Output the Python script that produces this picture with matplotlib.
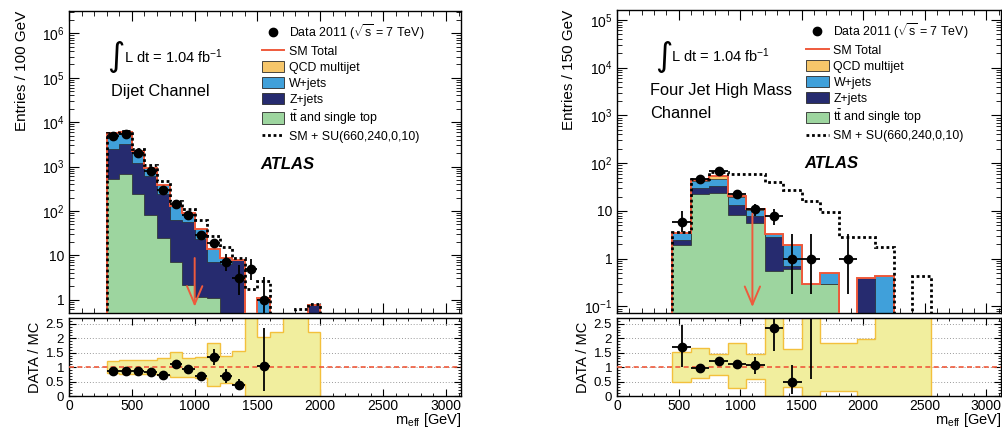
import numpy as np
import matplotlib
matplotlib.use("Agg")
import matplotlib.pyplot as plt
from matplotlib.lines import Line2D
from matplotlib.patches import Patch
from matplotlib.ticker import FixedLocator, FixedFormatter, MultipleLocator, NullFormatter

plt.rcParams["font.family"] = ["Liberation Sans", "DejaVu Sans"]
plt.rcParams["mathtext.fontset"] = "custom"
plt.rcParams["mathtext.rm"] = "Liberation Sans"
plt.rcParams["mathtext.it"] = "Liberation Sans:italic"
plt.rcParams["mathtext.bf"] = "Liberation Sans:bold"
plt.rcParams["mathtext.default"] = "regular"

# ---- Dijet channel (100 GeV bins) ----
dijet_edges = [300, 400, 500, 600, 700, 800, 900, 1000, 1100, 1200,
               1300, 1400, 1500, 1600, 1700, 1800, 1900, 2000]
dijet_ttbar = [520, 680, 245, 80, 24, 7.0, 2.1, 1.15, 1.1, 0, 0, 0, 0, 0, 0, 0, 0]
dijet_zjets = [1940, 2550, 975, 540, 216, 55, 53, 22, 6.0, 6.5, 8.0, 0, 0, 0, 0, 0, 0.75]
dijet_wjets = [3140, 2870, 1060, 300, 150, 68, 34, 15, 7.0, 2.2, 0, 0, 1.1, 0, 0, 0, 0]
dijet_qcd = [0, 0, 0, 0, 0, 0, 0, 0, 0, 0, 0, 0, 0, 0, 0, 0, 0]
dijet_susy = [5800, 6400, 2450, 1100, 460, 165, 110, 63, 27, 15, 8.7, 1.7, 2.6, 0, 0, 0.62, 0.8]

dijet_data_x = [350, 450, 550, 650, 750, 850, 950, 1050, 1150, 1250, 1350, 1450, 1550]
dijet_data_y = [5000, 5400, 2050, 800, 300, 145, 82, 29, 19, 7, 3, 5, 1]
dijet_data_lo = [70, 73, 45, 28, 17, 12, 9, 5.4, 4.4, 2.6, 1.7, 2.2, 0.99]
dijet_data_hi = [70, 73, 45, 28, 17, 12, 9, 5.4, 4.4, 3.8, 3.0, 3.4, 2.2]

dijet_ratio_x = [350, 450, 550, 650, 750, 850, 950, 1050, 1150, 1250, 1350, 1550]
dijet_ratio_y = [0.87, 0.88, 0.86, 0.82, 0.73, 1.11, 0.92, 0.70, 1.35, 0.70, 0.39, 1.05]
dijet_ratio_lo = [0.03, 0.03, 0.03, 0.04, 0.05, 0.06, 0.08, 0.10, 0.28, 0.25, 0.19, 0.87]
dijet_ratio_hi = [0.03, 0.03, 0.03, 0.04, 0.05, 0.06, 0.08, 0.10, 0.28, 0.25, 0.19, 1.30]
dijet_band_hi = [1.22, 1.24, 1.24, 1.25, 1.32, 1.52, 1.32, 1.35, 1.82, 1.40, 1.55,
                 3.0, 2.05, 2.23, 3.0, 3.0, 2.23]
dijet_band_lo = [0.78, 0.77, 0.77, 0.76, 0.72, 0.66, 0.65, 0.62, 0.33, 0.45, 0.42,
                 0, 0, 0, 0, 0, 0]
dijet_cut = 1000

# ---- Four jet high mass channel (150 GeV bins) ----
fourjet_edges = [450, 600, 750, 900, 1050, 1200, 1350, 1500, 1650,
                 1800, 1950, 2100, 2250, 2400, 2550]
fourjet_ttbar = [1.96, 22.5, 23.5, 8.05, 5.7, 0.54, 0.61, 0.29, 0.29, 0, 0, 0, 0, 0]
fourjet_zjets = [0.54, 7.5, 9.0, 5.35, 2.0, 2.26, 0.08, 0, 0, 0, 0.40, 0, 0, 0]
fourjet_wjets = [0.9, 12.5, 13.5, 6.6, 2.9, 0.5, 1.2, 0, 0.2, 0, 0, 0.43, 0, 0]
fourjet_qcd = [0, 3.0, 8.0, 0.5, 0.2, 0, 0, 0, 0, 0, 0, 0, 0, 0]
fourjet_susy = [3.6, 47, 65, 60, 59, 41, 28, 16.5, 9.3, 2.9, 2.9, 1.8, 0, 0.43]

fourjet_data_x = [525, 675, 825, 975, 1125, 1275, 1425, 1575, 1875]
fourjet_data_y = [6, 47, 67, 23, 11, 8, 1, 1, 1]
fourjet_data_lo = [2.3, 6.8, 8.2, 4.8, 3.3, 2.8, 0.82, 0.82, 0.82]
fourjet_data_hi = [3.8, 6.8, 8.2, 4.8, 3.3, 2.8, 2.3, 2.3, 2.3]

fourjet_ratio_x = [525, 675, 825, 975, 1125, 1275, 1425, 1575]
fourjet_ratio_y = [1.71, 0.98, 1.22, 1.12, 1.06, 2.35, 0.49, 3.6]
fourjet_ratio_lo = [0.69, 0.06, 0.08, 0.12, 0.30, 0.79, 0.41, 3.0]
fourjet_ratio_hi = [0.76, 0.06, 0.08, 0.12, 0.30, 0.32, 0.57, 1.5]
fourjet_band_hi = [1.51, 1.67, 1.47, 1.85, 1.45, 3.0, 1.62, 3.0, 1.85, 1.85, 1.96, 3.0, 3.0, 3.0]
fourjet_band_lo = [0.49, 0.62, 0.73, 0.27, 0.58, 0, 0.32, 0, 0.18, 0.18, 0, 0, 0, 0]
fourjet_cut = 1100

# colours
C_TTBAR = "#9dd59f"
C_ZJETS = "#262b6f"
C_WJETS = "#40a0da"
C_QCD = "#f6c66a"
C_SM = "#ef5a3c"
C_BAND = "#f1ee9e"
C_BAND_EDGE = "#f3c03c"

FLOOR = 1e-4
X_MAX = 3120
FS = 9.5


def log_safe(v):
    v = np.asarray(v, dtype=float)
    return np.where(v > 0, v, FLOOR)


def style_axes(ax):
    ax.tick_params(which="both", direction="in", top=True, right=True, labelsize=FS)
    ax.tick_params(which="major", length=7, width=0.8)
    ax.tick_params(which="minor", length=3.5, width=0.6)
    for sp in ax.spines.values():
        sp.set_linewidth(1.0)


def draw_main(ax, edges, comps, susy, data, ylim, yticks, yticklabels, ylabel, channel_lines,
              cut, cut_top, cut_tip, halfwidth, label_pad):
    cols = [C_TTBAR, C_ZJETS, C_WJETS, C_QCD]
    cum = np.zeros(len(edges) - 1)
    layers = []
    for comp in comps:
        cum = cum + np.asarray(comp, dtype=float)
        layers.append(cum.copy())
    for top, col in reversed(list(zip(layers, cols))):
        ax.stairs(log_safe(top), edges, baseline=FLOOR, fill=True,
                  facecolor=col, edgecolor="#2a2a2a", lw=0.5, zorder=2)
    ax.stairs(log_safe(cum), edges, baseline=FLOOR, color=C_SM, lw=1.4, zorder=3)
    ax.stairs(log_safe(susy), edges, baseline=FLOOR, color="black", lw=2.0,
              ls=(0, (1, 1)), zorder=4)

    dx, dy, dlo, dhi = data
    ax.errorbar(dx, dy, xerr=halfwidth, yerr=[dlo, dhi], fmt="o", color="black",
                ms=6, elinewidth=1.3, capsize=0, zorder=6)

    ax.annotate("", xy=(cut, cut_tip), xytext=(cut, cut_top),
                arrowprops=dict(arrowstyle="->,head_length=1.3,head_width=0.55",
                                color=C_SM, lw=1.4, mutation_scale=10), zorder=7)

    ax.set_yscale("log")
    ax.set_xlim(0, X_MAX)
    ax.set_ylim(*ylim)
    ax.yaxis.set_major_locator(FixedLocator(yticks))
    ax.yaxis.set_major_formatter(FixedFormatter(yticklabels))
    ax.yaxis.set_minor_locator(matplotlib.ticker.LogLocator(base=10, subs=np.arange(2, 10), numticks=20))
    ax.yaxis.set_minor_formatter(NullFormatter())
    ax.xaxis.set_major_locator(MultipleLocator(500))
    ax.xaxis.set_minor_locator(MultipleLocator(100))
    ax.tick_params(labelbottom=False)
    style_axes(ax)
    ax.tick_params(axis="y", labelsize=10)
    ax.set_ylabel(ylabel, loc="top", fontsize=11, labelpad=label_pad)

    ax.text(0.098, 0.848, "\u222b", transform=ax.transAxes, fontsize=24,
            va="center", ha="left", family=["DejaVu Sans"])
    ax.text(0.14, 0.848, "L dt = 1.04 fb$^{-1}$", transform=ax.transAxes,
            fontsize=10.5, va="center", ha="left")
    for i, line in enumerate(channel_lines):
        ax.text(0.086 if len(channel_lines) > 1 else 0.107, 0.735 - i * 0.077, line,
                transform=ax.transAxes, fontsize=11.8, va="center", ha="left")
    ax.text(0.487, 0.492, "ATLAS", transform=ax.transAxes, fontsize=12,
            fontweight="bold", style="italic", va="center", ha="left")

    handles = [
        Line2D([], [], marker="o", color="black", ls="none", ms=6),
        Line2D([], [], color=C_SM, lw=1.4),
        Patch(facecolor=C_QCD, edgecolor="#2a2a2a", lw=0.6),
        Patch(facecolor=C_WJETS, edgecolor="#2a2a2a", lw=0.6),
        Patch(facecolor=C_ZJETS, edgecolor="#2a2a2a", lw=0.6),
        Patch(facecolor=C_TTBAR, edgecolor="#2a2a2a", lw=0.6),
        Line2D([], [], color="black", lw=2.0, ls=(0, (1, 1))),
    ]
    labels = [
        "Data 2011 ($\\sqrt{s}$ = 7 TeV)",
        "SM Total",
        "QCD multijet",
        "W+jets",
        "Z+jets",
        "$t\\bar{t}$ and single top",
        "SM + SU(660,240,0,10)",
    ]
    ax.legend(handles, labels, loc="upper left", bbox_to_anchor=(0.48, 0.98),
              frameon=False, fontsize=8.9, handlelength=1.8, handleheight=1.0,
              handletextpad=0.4, labelspacing=0.26, borderaxespad=0.0)


def draw_ratio(ax, edges, band_lo, band_hi, ratio, halfwidth):
    ax.stairs(band_hi, edges, baseline=band_lo, fill=True, facecolor=C_BAND,
              edgecolor=C_BAND_EDGE, lw=1.0, zorder=2)
    ax.axhline(1.0, color=C_SM, lw=1.2, ls=(0, (3, 2)), zorder=3)
    rx, ry, rlo, rhi = ratio
    ax.errorbar(rx, ry, xerr=halfwidth, yerr=[rlo, rhi], fmt="o", color="black",
                ms=6, elinewidth=1.3, capsize=0, zorder=5)
    ax.set_xlim(0, X_MAX)
    ax.set_ylim(0, 2.7)
    ax.yaxis.set_major_locator(FixedLocator([0, 0.5, 1, 1.5, 2, 2.5]))
    ax.yaxis.set_major_formatter(FixedFormatter(["0", "0.5", "1", "1.5", "2", "2.5"]))
    ax.yaxis.set_minor_locator(MultipleLocator(0.1))
    ax.xaxis.set_major_locator(MultipleLocator(500))
    ax.xaxis.set_minor_locator(MultipleLocator(100))
    ax.yaxis.grid(True, which="major", color="#9a9a9a", lw=0.7, ls=(0, (1, 2)), zorder=0)
    ax.set_axisbelow(True)
    style_axes(ax)
    ax.tick_params(axis="x", labelsize=10, pad=2)
    ax.tick_params(which="major", length=5)
    ax.tick_params(which="minor", length=2.5)
    ax.set_ylabel("DATA / MC", fontsize=10.5, labelpad=3)
    ax.set_xlabel("m$_{eff}$ [GeV]", loc="right", fontsize=10.5, labelpad=-1)


def main():
    fig = plt.figure(figsize=(10.02, 4.32), dpi=100)

    ax_l = fig.add_axes([0.0689, 0.2755, 0.3912, 0.699])
    ax_lr = fig.add_axes([0.0689, 0.0833, 0.3912, 0.1806])
    ax_r = fig.add_axes([0.6158, 0.2755, 0.3832, 0.701])
    ax_rr = fig.add_axes([0.6158, 0.0833, 0.3832, 0.1806])

    draw_main(ax_l, dijet_edges, [dijet_ttbar, dijet_zjets, dijet_wjets, dijet_qcd],
              dijet_susy, (dijet_data_x, dijet_data_y, dijet_data_lo, dijet_data_hi),
              ylim=(0.5, 3.2e6),
              yticks=[1, 10, 1e2, 1e3, 1e4, 1e5, 1e6],
              yticklabels=["1", "10", "10$^{2}$", "10$^{3}$", "10$^{4}$", "10$^{5}$", "10$^{6}$"],
              ylabel="Entries / 100 GeV", channel_lines=["Dijet Channel"],
              cut=dijet_cut, cut_top=10, cut_tip=0.6, halfwidth=50, label_pad=9)
    draw_ratio(ax_lr, dijet_edges, dijet_band_lo, dijet_band_hi,
               (dijet_ratio_x, dijet_ratio_y, dijet_ratio_lo, dijet_ratio_hi), 50)

    draw_main(ax_r, fourjet_edges, [fourjet_ttbar, fourjet_zjets, fourjet_wjets, fourjet_qcd],
              fourjet_susy, (fourjet_data_x, fourjet_data_y, fourjet_data_lo, fourjet_data_hi),
              ylim=(0.073, 1.6e5),
              yticks=[0.1, 1, 10, 1e2, 1e3, 1e4, 1e5],
              yticklabels=["10$^{-1}$", "1", "10", "10$^{2}$", "10$^{3}$", "10$^{4}$", "10$^{5}$"],
              ylabel="Entries / 150 GeV", channel_lines=["Four Jet High Mass", "Channel"],
              cut=fourjet_cut, cut_top=10, cut_tip=0.085, halfwidth=75, label_pad=6)
    draw_ratio(ax_rr, fourjet_edges, fourjet_band_lo, fourjet_band_hi,
               (fourjet_ratio_x, fourjet_ratio_y, fourjet_ratio_lo, fourjet_ratio_hi), 75)

    fig.savefig("out.png", dpi=100)


if __name__ == "__main__":
    main()
